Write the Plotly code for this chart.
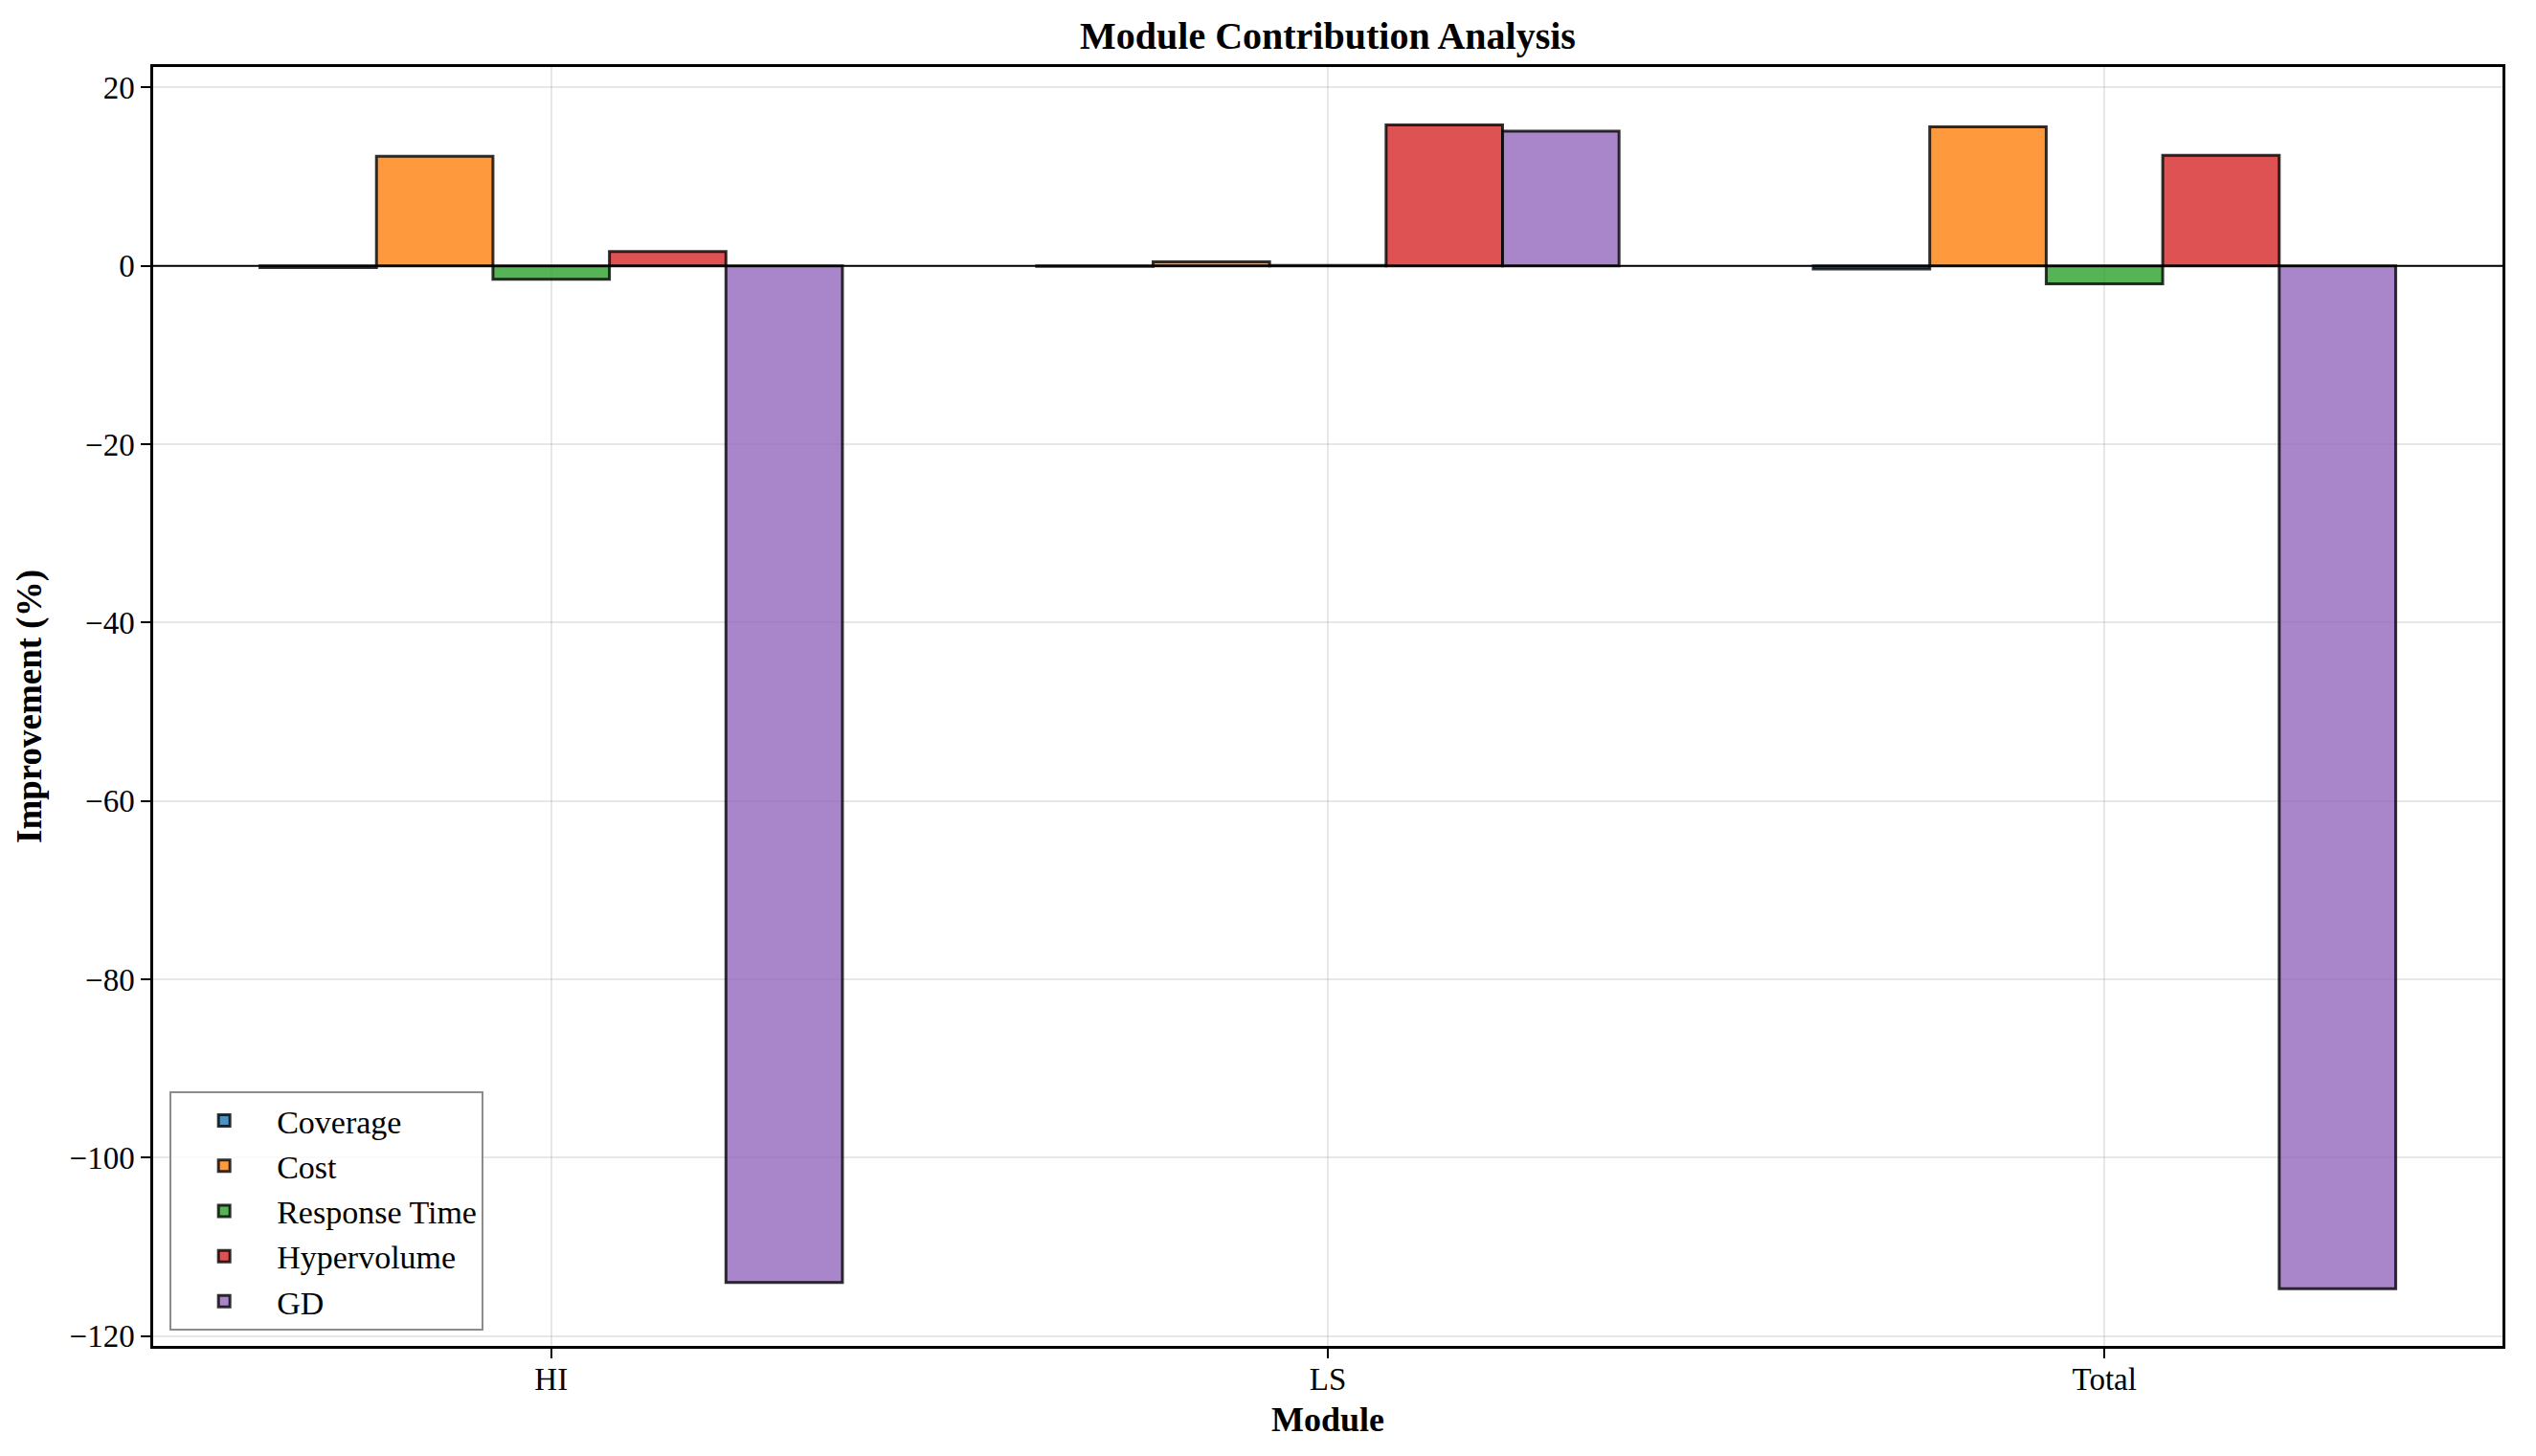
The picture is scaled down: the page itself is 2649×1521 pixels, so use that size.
import plotly.graph_objects as go

modules = ["HI", "LS", "Total"]
series_names = ["Coverage", "Cost", "Response Time", "Hypervolume", "GD"]
coverage = [-0.2, -0.05, -0.35]
cost = [12.3, 0.45, 15.6]
response_time = [-1.5, 0.05, -2.0]
hypervolume = [1.6, 15.8, 12.4]
gd = [-114.0, 15.1, -114.7]
series_values = [coverage, cost, response_time, hypervolume, gd]
colors = ["31,119,180", "255,127,14", "44,160,44", "214,39,40", "148,103,189"]
y_ticks = [20, 0, -20, -40, -60, -80, -100, -120]

FONT = "Liberation Serif"

fig = go.Figure()
for name, vals, c in zip(series_names, series_values, colors):
    fig.add_trace(go.Bar(
        x=modules, y=vals, name=name,
        marker=dict(color=f"rgba({c},0.8)",
                    line=dict(color="rgba(0,0,0,0.8)", width=3)),
    ))

fig.add_shape(type="line", xref="paper", x0=0, x1=1, yref="y", y0=0, y1=0,
              line=dict(color="black", width=2), layer="above")

fig.update_layout(
    width=2649, height=1521,
    margin=dict(l=152, r=43, t=62, b=123, autoexpand=False),
    paper_bgcolor="white", plot_bgcolor="white",
    barmode="group", bargap=0.25, bargroupgap=0,
    font=dict(family=FONT, size=33, color="black"),
    title=dict(text="<b>Module Contribution Analysis</b>", x=0.5, xanchor="center",
               xref="paper", y=1 - 29 / 1521, yref="container", yanchor="middle",
               font=dict(family=FONT, size=40, color="black")),
    xaxis=dict(
        range=[-0.5125, 2.5125], showline=True, linecolor="black", linewidth=2.5,
        mirror=True, ticks="outside", ticklen=10, tickwidth=2.2, tickcolor="black",
        showgrid=True, gridcolor="rgba(176,176,176,0.3)", gridwidth=2,
        zeroline=False, ticklabelstandoff=-6,
        title=dict(text="<b>Module</b>", font=dict(family=FONT, size=36), standoff=12),
        tickfont=dict(family=FONT, size=33),
    ),
    yaxis=dict(
        range=[-121.1, 22.3], tickvals=y_ticks,
        ticktext=[str(v).replace("-", "\u2212") for v in y_ticks],
        showline=True, linecolor="black", linewidth=2.5,
        mirror=True, ticks="outside", ticklen=10, tickwidth=2.2, tickcolor="black",
        showgrid=True, gridcolor="rgba(176,176,176,0.3)", gridwidth=2,
        zeroline=False,
        title=dict(text="<b>Improvement (%)</b>", font=dict(family=FONT, size=37), standoff=18),
        tickfont=dict(family=FONT, size=33),
    ),
    legend=dict(
        x=0.007, y=0.012, xanchor="left", yanchor="bottom",
        bgcolor="rgba(255,255,255,0.8)", bordercolor="#8c8c8c", borderwidth=2,
        font=dict(family=FONT, size=34, color="black"),
        itemwidth=100, tracegroupgap=0,
    ),
)

fig.write_html("out.html")
